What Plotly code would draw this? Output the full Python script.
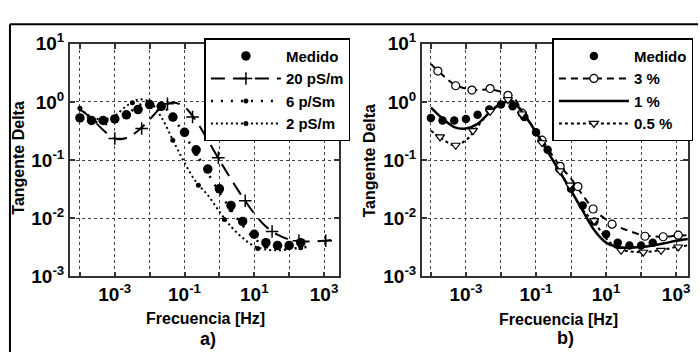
import plotly.graph_objects as go

# ---------------- data ----------------
# frequency grid (Hz) of the measured / model points
FREQ = [1e-4, 2.15e-4, 4.64e-4, 1e-3, 2.15e-3, 4.64e-3, 1e-2, 2.15e-2, 4.64e-2,
        0.1, 0.215, 0.464, 1, 2.15, 4.64, 10, 21.5, 46.4, 100, 215, 464, 1000, 2150]

# measured tan delta (both panels)
MEDIDO = [0.53, 0.48, 0.48, 0.51, 0.60, 0.74, 0.90, 0.84, 0.55, 0.30, 0.15, 0.07,
          0.032, 0.0166, 0.0088, 0.0053, 0.0038, 0.0034, 0.0034, 0.0038]

# panel a) models
S20 = [0.75, 0.52, 0.33, 0.235, 0.24, 0.32, 0.50, 0.80, 0.98, 0.82, 0.47, 0.22,
       0.10, 0.047, 0.023, 0.012, 0.0072, 0.0052, 0.0043, 0.0040, 0.0040, 0.0041, 0.0043]
S20_MF = [1e-3, 5.9e-3, 3.24e-2, 0.17, 0.93, 5.5, 32.4, 190, 1120]
S20_MV = [0.235, 0.35, 0.93, 0.55, 0.11, 0.02, 0.0059, 0.0041, 0.0041]

S6 = [0.75, 0.50, 0.42, 0.45, 0.60, 0.85, 1.05, 0.90, 0.55, 0.27, 0.13, 0.06,
      0.028, 0.014, 0.0075, 0.0045, 0.0033, 0.0030, 0.0030, 0.0031, 0.0033]
S6_MF = [2.15e-4, 2.15e-3, 2.15e-2, 0.215, 2.15, 21.5, 215]
S6_MV = [0.50, 0.60, 0.90, 0.13, 0.014, 0.0033, 0.0031]

S2 = [0.78, 0.55, 0.50, 0.58, 0.85, 1.10, 1.00, 0.55, 0.22, 0.09, 0.042, 0.025,
      0.013, 0.0072, 0.0046, 0.0033, 0.0029, 0.0028, 0.0029]
S2_MF = [1e-4, 5.6e-4, 3.2e-3, 4.6e-2, 0.25, 1.38, 12.6]
S2_MV = [0.78, 0.48, 0.97, 0.22, 0.037, 0.0095, 0.003]

# panel b) models
P3 = [4.5, 2.9, 2.0, 1.7, 1.6, 1.65, 1.5, 1.25, 0.58, 0.33, 0.16, 0.082,
      0.048, 0.025, 0.0138, 0.0095, 0.0072, 0.0060, 0.0052, 0.0049, 0.0048, 0.0050, 0.0051]
P3_MF = [1.58e-4, 5.1e-4, 1.48e-3, 4.9e-3, 1.58e-2, 3.98e-2, 0.148, 0.49, 1.58,
         4.27, 14.8, 129, 427, 1150]
P3_MV = [3.4, 1.9, 1.6, 1.7, 1.3, 0.64, 0.22, 0.078, 0.035, 0.0144, 0.0079,
         0.0049, 0.0048, 0.0051]

P1 = [0.80, 0.52, 0.37, 0.35, 0.42, 0.65, 0.93, 1.00, 0.60, 0.30, 0.14, 0.065,
      0.030, 0.0135, 0.0062, 0.0038, 0.0032, 0.0031, 0.0032, 0.0034, 0.0037, 0.0041, 0.0044]

P05 = [0.32, 0.23, 0.18, 0.22, 0.38, 0.66, 0.95, 1.05, 0.60, 0.30, 0.14, 0.065,
       0.030, 0.014, 0.0085, 0.0045, 0.0030, 0.0027, 0.0026, 0.0027, 0.0029, 0.0032, 0.0034]
P05_MF = [1.82e-4, 5.1e-4, 1.58e-3, 4.9e-3, 1.58e-2, 3.98e-2, 0.148, 0.49, 0.93,
          4.57, 26.9, 115, 372, 1150]
P05_MV = [0.25, 0.18, 0.32, 0.69, 1.1, 0.62, 0.20, 0.065, 0.037, 0.0091, 0.0028,
          0.0026, 0.0028, 0.0032]

X_TICKS = [1e-4, 1e-3, 1e-2, 1e-1, 1, 10, 100, 1000]
X_TEXT = ["", "10<sup>-3</sup>", "", "10<sup>-1</sup>", "", "10<sup>1</sup>", "", "10<sup>3</sup>"]
Y_TICKS = [1e-3, 1e-2, 1e-1, 1, 10]
Y_TEXT = ["10<sup>-3</sup>", "10<sup>-2</sup>", "10<sup>-1</sup>", "10<sup>0</sup>", "10<sup>1</sup>"]

FONT = "Liberation Sans, Arial, sans-serif"
W, H = 700, 363

fig = go.Figure()


def model(name, xs, ys, mf, mv, line, marker, xa, ya, legend):
    fig.add_trace(go.Scatter(x=xs, y=ys, mode="lines", line=dict(shape="spline", **line),
                             showlegend=False, xaxis=xa, yaxis=ya, hoverinfo="skip"))
    if mf:
        fig.add_trace(go.Scatter(x=mf, y=mv, mode="markers", marker=marker,
                                 showlegend=False, xaxis=xa, yaxis=ya))
    fig.add_trace(go.Scatter(x=[None], y=[None], mode="lines+markers" if mf else "lines",
                             name=name, line=line, marker=marker, xaxis=xa, yaxis=ya,
                             legend=legend))


# panel a
fig.add_trace(go.Scatter(x=FREQ[:len(MEDIDO)], y=MEDIDO, mode="markers", name="Medido",
                         marker=dict(symbol="circle", size=9.5, color="black"),
                         xaxis="x", yaxis="y", legend="legend"))
model("20 pS/m", FREQ[:len(S20)], S20, S20_MF, S20_MV,
      dict(color="black", width=2, dash="14px,8px"),
      dict(symbol="cross-thin", size=9, line=dict(color="black", width=1.5)), "x", "y", "legend")
model("6 p/Sm", FREQ[:len(S6)], S6, S6_MF, S6_MV,
      dict(color="black", width=2.5, dash="2px,8px"),
      dict(symbol="circle", size=5, color="black"), "x", "y", "legend")
model("2 pS/m", FREQ[:len(S2)], S2, S2_MF, S2_MV,
      dict(color="black", width=2, dash="2px,3px"),
      dict(symbol="circle", size=5, color="black"), "x", "y", "legend")

# panel b
fig.add_trace(go.Scatter(x=FREQ[:len(MEDIDO)], y=MEDIDO, mode="markers", name="Medido",
                         marker=dict(symbol="circle", size=8.5, color="black"),
                         xaxis="x2", yaxis="y2", legend="legend2"))
model("3 %", FREQ[:len(P3)], P3, P3_MF, P3_MV,
      dict(color="black", width=2, dash="7px,5px"),
      dict(symbol="circle", size=8, color="white", line=dict(color="black", width=1.2)),
      "x2", "y2", "legend2")
model("1 %", FREQ[:len(P1)], P1, [], [],
      dict(color="black", width=2.5), dict(), "x2", "y2", "legend2")
model("0.5 %", FREQ[:len(P05)], P05, P05_MF, P05_MV,
      dict(color="black", width=2, dash="3px,3px"),
      dict(symbol="triangle-down", size=8, color="white", line=dict(color="black", width=1.2)),
      "x2", "y2", "legend2")

axis_common = dict(type="log", showline=True, linecolor="#333", linewidth=1.5, mirror="ticks",
                   ticks="inside", ticklen=5, tickcolor="#333", tickwidth=1.5,
                   showgrid=True, gridcolor="#444", griddash="dot", gridwidth=1,
                   tickfont=dict(family=FONT, size=19, color="black", weight="bold"))

y0, y1 = 1 - 282 / H, 1 - 33 / H
leg_common = dict(xanchor="left", yanchor="top", bgcolor="white", bordercolor="black",
                  borderwidth=1.5, itemwidth=70, tracegroupgap=0,
                  font=dict(family=FONT, size=15, color="black", weight="bold"))
fig.update_layout(
    width=W, height=H, margin=dict(l=0, r=0, t=0, b=0),
    paper_bgcolor="white", plot_bgcolor="white",
    xaxis=dict(domain=[70 / W, 340 / W], range=[-4.29, 3.43], anchor="y",
               tickvals=X_TICKS, ticktext=X_TEXT, **axis_common),
    yaxis=dict(domain=[y0, y1], range=[-3, 1], anchor="x",
               tickvals=Y_TICKS, ticktext=Y_TEXT, **axis_common),
    xaxis2=dict(domain=[423 / W, 690 / W], range=[-4.26, 3.34], anchor="y2",
                tickvals=X_TICKS, ticktext=X_TEXT, **axis_common),
    yaxis2=dict(domain=[y0, y1], range=[-3, 1], anchor="x2",
                tickvals=Y_TICKS, ticktext=Y_TEXT, **axis_common),
    legend=dict(x=205 / W, y=1 - 27 / H, **leg_common),
    legend2=dict(x=554 / W, y=1 - 27 / H, **leg_common),
    showlegend=True,
)

ann_font = dict(family=FONT, size=16, color="black", weight="bold")
anns = [
    dict(text="Frecuencia [Hz]", x=206 / W, y=1 - 327 / H),
    dict(text="Frecuencia [Hz]", x=560 / W, y=1 - 328 / H),
    dict(text="Tangente Delta", x=19 / W, y=1 - 155 / H, textangle=-90),
    dict(text="Tangente Delta", x=371 / W, y=1 - 158 / H, textangle=-90),
    dict(text="a)", x=209 / W, y=1 - 349 / H, size=18),
    dict(text="b)", x=567 / W, y=1 - 348 / H, size=18),
]
for a in anns:
    f = dict(ann_font)
    if "size" in a:
        f["size"] = a.pop("size")
    fig.add_annotation(xref="paper", yref="paper", showarrow=False, font=f,
                       xanchor="center", yanchor="middle", **a)

# outer frame (left and top edges)
fig.add_shape(type="line", xref="paper", yref="paper", x0=10 / W, x1=10 / W,
              y0=0, y1=1 - 12 / H, line=dict(color="black", width=2))
fig.add_shape(type="line", xref="paper", yref="paper", x0=10 / W, x1=1,
              y0=1 - 12 / H, y1=1 - 12 / H, line=dict(color="black", width=2))

fig.write_html("out.html")
